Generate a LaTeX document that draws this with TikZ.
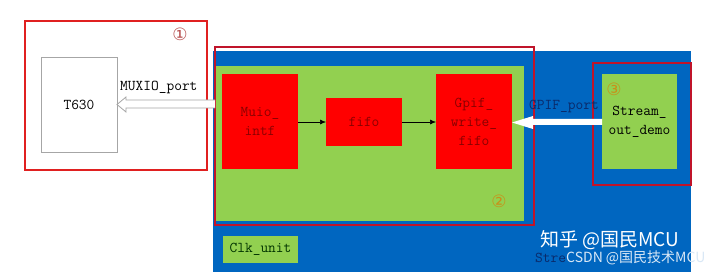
\documentclass[tikz,border=0pt]{standalone}
\usepackage{fontspec}
\newfontfamily\symfont{DejaVu Sans}
\newfontfamily\cjk{Noto Sans CJK SC}
\usetikzlibrary{calc,arrows.meta}
\definecolor{offblue}{HTML}{0066C0}
\definecolor{offgreen}{HTML}{92D050}
\definecolor{boxred}{HTML}{E02020}
\definecolor{darkred}{HTML}{C0142A}
\definecolor{numgold}{HTML}{C8901A}
\definecolor{numred}{HTML}{B85050}
\definecolor{txtred}{HTML}{8A0000}
\definecolor{portblue}{HTML}{0A2A6A}
\tikzset{
  blk/.style={rectangle, inner sep=0pt, outer sep=0pt, font=\ttfamily\fontsize{15}{19}\selectfont, align=center},
  redblk/.style={blk, fill=red, text=txtred},
  greenblk/.style={blk, fill=offgreen},
  frame/.style={rectangle, inner sep=0pt, outer sep=0pt, line width=1.4pt},
  num/.style={font=\symfont\fontsize{17}{17}\selectfont, inner sep=0pt},
  lbl/.style={font=\ttfamily\fontsize{15}{15}\selectfont, inner sep=0pt},
  flow/.style={-{Latex[length=6pt,width=5pt]}, line width=0.6pt, black}
}
\begin{document}
\begin{tikzpicture}[x=1pt,y=-1pt]
\useasboundingbox (0,0) rectangle (720,272);
\fill[white] (0,0) rectangle (720,272);
% blue background
\node[rectangle, fill=offblue, minimum width=478pt, minimum height=221pt, inner sep=0pt] (blue) at (452,161.5) {};
% green main
\node[greenblk, minimum width=309pt, minimum height=155pt] (gmain) at (369.5,143.5) {};
% red module blocks
\node[redblk, minimum width=76pt, minimum height=95pt] (muio) at (260,121.5) {Muio\_\\intf};
\node[redblk, minimum width=76pt, minimum height=48pt] (fifo) at (364,122) {fifo};
\node[redblk, minimum width=76pt, minimum height=95pt] (gpif) at (474,121.5) {Gpif\_\\write\_\\fifo};
\draw[flow] (muio.east |- fifo.west) -- (fifo.west);
\draw[flow] (fifo.east) -- (gpif.west |- fifo.east);
% clk unit
\node[greenblk, minimum width=75pt, minimum height=27pt, text=black!80!green] (clk) at (260.5,249.5) {Clk\_unit};
% stream out demo
\node[greenblk, minimum width=75pt, minimum height=95pt, text=black] (stream) at (639.5,121.5) {Stream\_\\out\_demo};
% frame 3
\node[frame, draw=darkred, minimum width=98pt, minimum height=122pt] (f3) at (642,124) {};
\node[num, text=numgold] (n3) at (614,89) {③};
% frame 2
\node[frame, draw=darkred, minimum width=319pt, minimum height=178pt] (f2) at (374.5,136) {};
\node[num, text=numgold] (n2) at (499,201) {②};
% frame 1 and T630
\node[frame, draw=boxred, minimum width=182pt, minimum height=149pt] (f1) at (116,95.5) {};
\node[num, text=numred] (n1) at (180,34) {①};
\node[blk, draw=gray!70, line width=0.8pt, minimum width=76pt, minimum height=95pt] (t630) at (79,104.5) {T630};
% MUXIO hollow arrow
\coordinate (mA) at (f2.west |- 0,100);
\draw[gray!70, line width=0.8pt, fill=white]
  (mA) -- (126,100) -- (126,97) -- (t630.east |- 0,104.5) -- (126,112) -- (126,108) -- ($(mA)+(0,8)$);
\node[lbl, anchor=south west] (muxlbl) at (120,94) {MUXIO\_port};
% GPIF white arrow
\fill[white] (stream.west |- 0,119) -- (533,119) -- (533,116) -- (gpif.east |- 0,122.5) -- (533,129) -- (533,125) -- (stream.west |- 0,125) -- cycle;
\node[lbl, text=portblue, anchor=south] (gpiflbl) at (564,113) {GPIF\_port};
% partially hidden label
\node[lbl, text=portblue, anchor=west] (stre) at (535,258) {Stre};
% watermarks
\node[font=\cjk\fontsize{19}{19}\selectfont, text=white, anchor=west, inner sep=0pt] (wm1) at (540,240) {知乎 @国民MCU};
\node[font=\cjk\fontsize{14}{14}\selectfont, text=white!85!offblue, anchor=west, inner sep=0pt] (wm2) at (566,258) {CSDN @国民技术MCU};
\end{tikzpicture}
\end{document}
